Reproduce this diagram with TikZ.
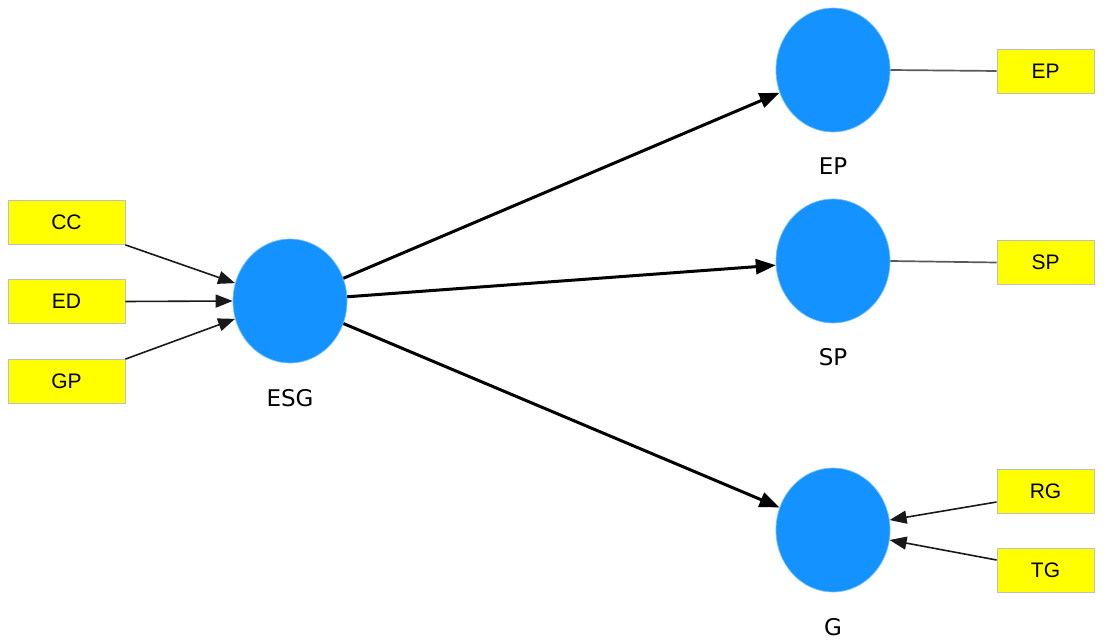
\documentclass[tikz,border=0pt]{standalone}
\usepackage{fontspec}
\setmainfont{Liberation Sans}
\newfontfamily\lblfont{DejaVu Sans}
\usetikzlibrary{arrows.meta,shapes.geometric}
\definecolor{lvblue}{RGB}{20,146,255}
\definecolor{boxyel}{RGB}{255,255,0}
\begin{document}
\begin{tikzpicture}[x=1pt,y=-1pt,
  lv/.style={ellipse, fill=lvblue, draw=lvblue!60!white, line width=0.7pt, minimum width=114pt, minimum height=124pt, inner sep=0pt},
  ind/.style={rectangle, fill=boxyel, draw=black!25, line width=0.8pt, minimum height=44pt, inner sep=0pt, font=\fontsize{21}{24}\selectfont},
  lbl/.style={font=\lblfont\fontsize{23}{26}\selectfont, inner sep=0pt},
  bigarr/.style={line width=3pt, -{Triangle[length=20pt,width=15pt]}},
  smallarr/.style={line width=1.6pt, black!90, -{Triangle[length=17pt,width=13pt]}},
  loadline/.style={line width=1.7pt, black!65}]
\useasboundingbox (0,0) rectangle (1106,644);
% indicator boxes left
\node[ind, minimum width=117pt] (CC) at (66.5,222.5) {CC};
\node[ind, minimum width=117pt] (ED) at (66.5,301.5) {ED};
\node[ind, minimum width=117pt] (GP) at (66.5,381.5) {GP};
% latent variables
\node[lv] (ESG) at (290,301) {};
\node[lv] (EP) at (833,70) {};
\node[lv] (SP) at (833,261) {};
\node[lv] (G) at (833,530) {};
% labels
\node[lbl] (lESG) at (290,398) {ESG};
\node[lbl] (lEP) at (833,166) {EP};
\node[lbl] (lSP) at (833,357) {SP};
\node[lbl] (lG) at (833,627) {G};
% indicator boxes right
\node[ind, minimum width=97pt] (EPi) at (1045.5,71) {EP};
\node[ind, minimum width=97pt] (SPi) at (1045.5,262.5) {SP};
\node[ind, minimum width=97pt] (RG) at (1045.5,491) {RG};
\node[ind, minimum width=97pt] (TG) at (1045.5,570) {TG};
% connectors
\draw[smallarr] (CC.south east) -- (ESG.162);
\draw[smallarr] (ED.east) -- (ESG.west);
\draw[smallarr] (GP.north east) -- (ESG.198);
\draw[bigarr] (ESG) -- (EP);
\draw[bigarr] (ESG) -- (SP);
\draw[bigarr] (ESG) -- (G);
\draw[loadline] (EP.east) -- (EPi.west);
\draw[loadline] (SP.east) -- (SPi.west);
\draw[smallarr] ([yshift=-11pt]RG.west) -- (G.10);
\draw[smallarr] ([yshift=10pt]TG.west) -- (G.-10);
\end{tikzpicture}
\end{document}
